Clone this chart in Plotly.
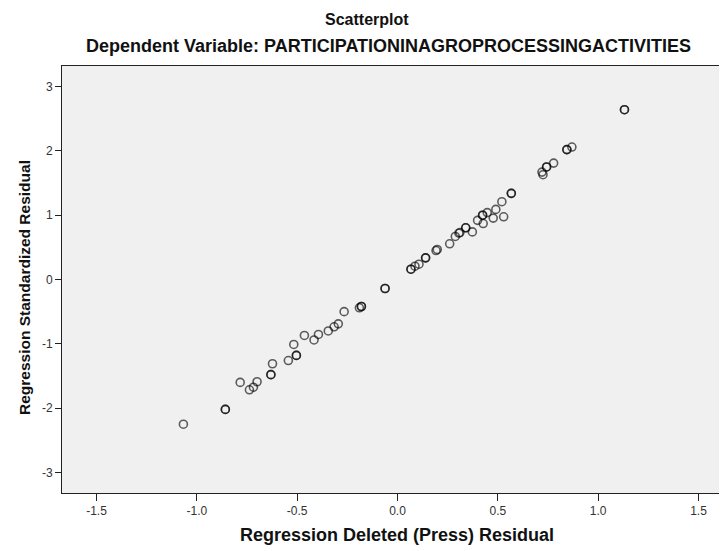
import plotly.graph_objects as go

# Regression Deleted (Press) Residual
deleted_resid = [
    -1.067, -0.858, -0.858, -0.784, -0.738, -0.718, -0.700, -0.631, -0.631,
    -0.623, -0.544, -0.504, -0.504, -0.517, -0.464, -0.416, -0.394, -0.345,
    -0.316, -0.295, -0.266, -0.190, -0.180, -0.180, -0.062, -0.062,
    0.067, 0.067, 0.087, 0.107, 0.140, 0.140, 0.192, 0.198, 0.260, 0.288,
    0.306, 0.311, 0.340, 0.340, 0.373, 0.399, 0.424, 0.424, 0.427, 0.447,
    0.477, 0.490, 0.520, 0.529, 0.567, 0.567, 0.720, 0.725, 0.743, 0.743,
    0.778, 0.844, 0.844, 0.869, 1.131, 1.131,
]
# Regression Standardized Residual
std_resid = [
    -2.25, -2.02, -2.02, -1.60, -1.715, -1.675, -1.59, -1.48, -1.48,
    -1.31, -1.26, -1.18, -1.18, -1.01, -0.87, -0.94, -0.855, -0.80,
    -0.735, -0.69, -0.50, -0.44, -0.42, -0.42, -0.14, -0.14,
    0.16, 0.16, 0.207, 0.238, 0.337, 0.337, 0.45, 0.467, 0.555, 0.669,
    0.72, 0.73, 0.804, 0.804, 0.74, 0.92, 1.0, 1.0, 0.87, 1.04,
    0.955, 1.09, 1.21, 0.975, 1.34, 1.34, 1.67, 1.63, 1.75, 1.75,
    1.81, 2.02, 2.02, 2.06, 2.64, 2.64,
]

x_ticks = [-1.5, -1.0, -0.5, 0.0, 0.5, 1.0, 1.5]
x_tick_labels = ["-1.5", "-1.0", "-0.5", "0.0", "0.5", "1.0", "1.5"]
y_ticks = [-3, -2, -1, 0, 1, 2, 3]
y_tick_labels = ["-3", "-2", "-1", "0", "1", "2", "3"]

title_text = "Scatterplot"
subtitle_text = "Dependent Variable: PARTICIPATIONINAGROPROCESSINGACTIVITIES"
x_title = "Regression Deleted (Press) Residual"
y_title = "Regression Standardized Residual"

FONT = "Liberation Sans, Arial, sans-serif"
OFF = 8  # page body margin
W, H = 727 - OFF, 551 - OFF
ML, MR, MT, MB = 62 - OFF, 0, 66 - OFF, 58
PW = W - ML - MR
PH = H - MT - MB


def px_x(px):
    return (px - OFF - ML) / PW


def px_y(py):
    return 1 + (MT - (py - OFF)) / PH


fig = go.Figure()
fig.add_trace(go.Scatter(
    x=deleted_resid, y=std_resid, mode="markers",
    marker=dict(symbol="circle-open", size=8, color="rgba(0,0,0,0.62)",
                line=dict(width=1.6, color="rgba(0,0,0,0.62)")),
    showlegend=False, hoverinfo="x+y",
))

fig.update_layout(
    width=W, height=H,
    margin=dict(l=ML, r=MR, t=MT, b=MB, pad=0),
    paper_bgcolor="white", plot_bgcolor="#f0f0f0",
    font=dict(family=FONT, color="#222222"),
    annotations=[
        dict(text="<b>%s</b>" % title_text, xref="paper", yref="paper",
             x=px_x(367), y=px_y(19), xanchor="center", yanchor="middle",
             showarrow=False, font=dict(size=16, color="#111111", family=FONT)),
        dict(text="<b>%s</b>" % subtitle_text, xref="paper", yref="paper",
             x=px_x(388), y=px_y(46), xanchor="center", yanchor="middle",
             showarrow=False, font=dict(size=18, color="#111111", family=FONT)),
        dict(text="<b>%s</b>" % x_title, xref="paper", yref="paper",
             x=px_x(397), y=px_y(535), xanchor="center", yanchor="middle",
             showarrow=False, font=dict(size=18, color="#111111", family=FONT)),
        dict(text="<b>%s</b>" % y_title, xref="paper", yref="paper",
             x=px_x(24), y=px_y(288), xanchor="center", yanchor="middle",
             textangle=-90,
             showarrow=False, font=dict(size=15.5, color="#111111", family=FONT)),
    ],
    xaxis=dict(
        range=[-1.672, 1.642], tickvals=x_ticks, ticktext=x_tick_labels,
        showgrid=False, zeroline=False, showline=True, linecolor="#222222",
        linewidth=1, mirror=True, ticks="outside", ticklen=7, tickcolor="#222222",
        tickfont=dict(size=12, color="#333333", family=FONT),
    ),
    yaxis=dict(
        range=[-3.32, 3.32], tickvals=y_ticks, ticktext=y_tick_labels,
        showgrid=False, zeroline=False, showline=True, linecolor="#222222",
        linewidth=1, mirror=False, ticks="outside", ticklen=6, tickcolor="#222222",
        tickfont=dict(size=12, color="#333333", family=FONT),
    ),
)

fig.write_html("out.html")
